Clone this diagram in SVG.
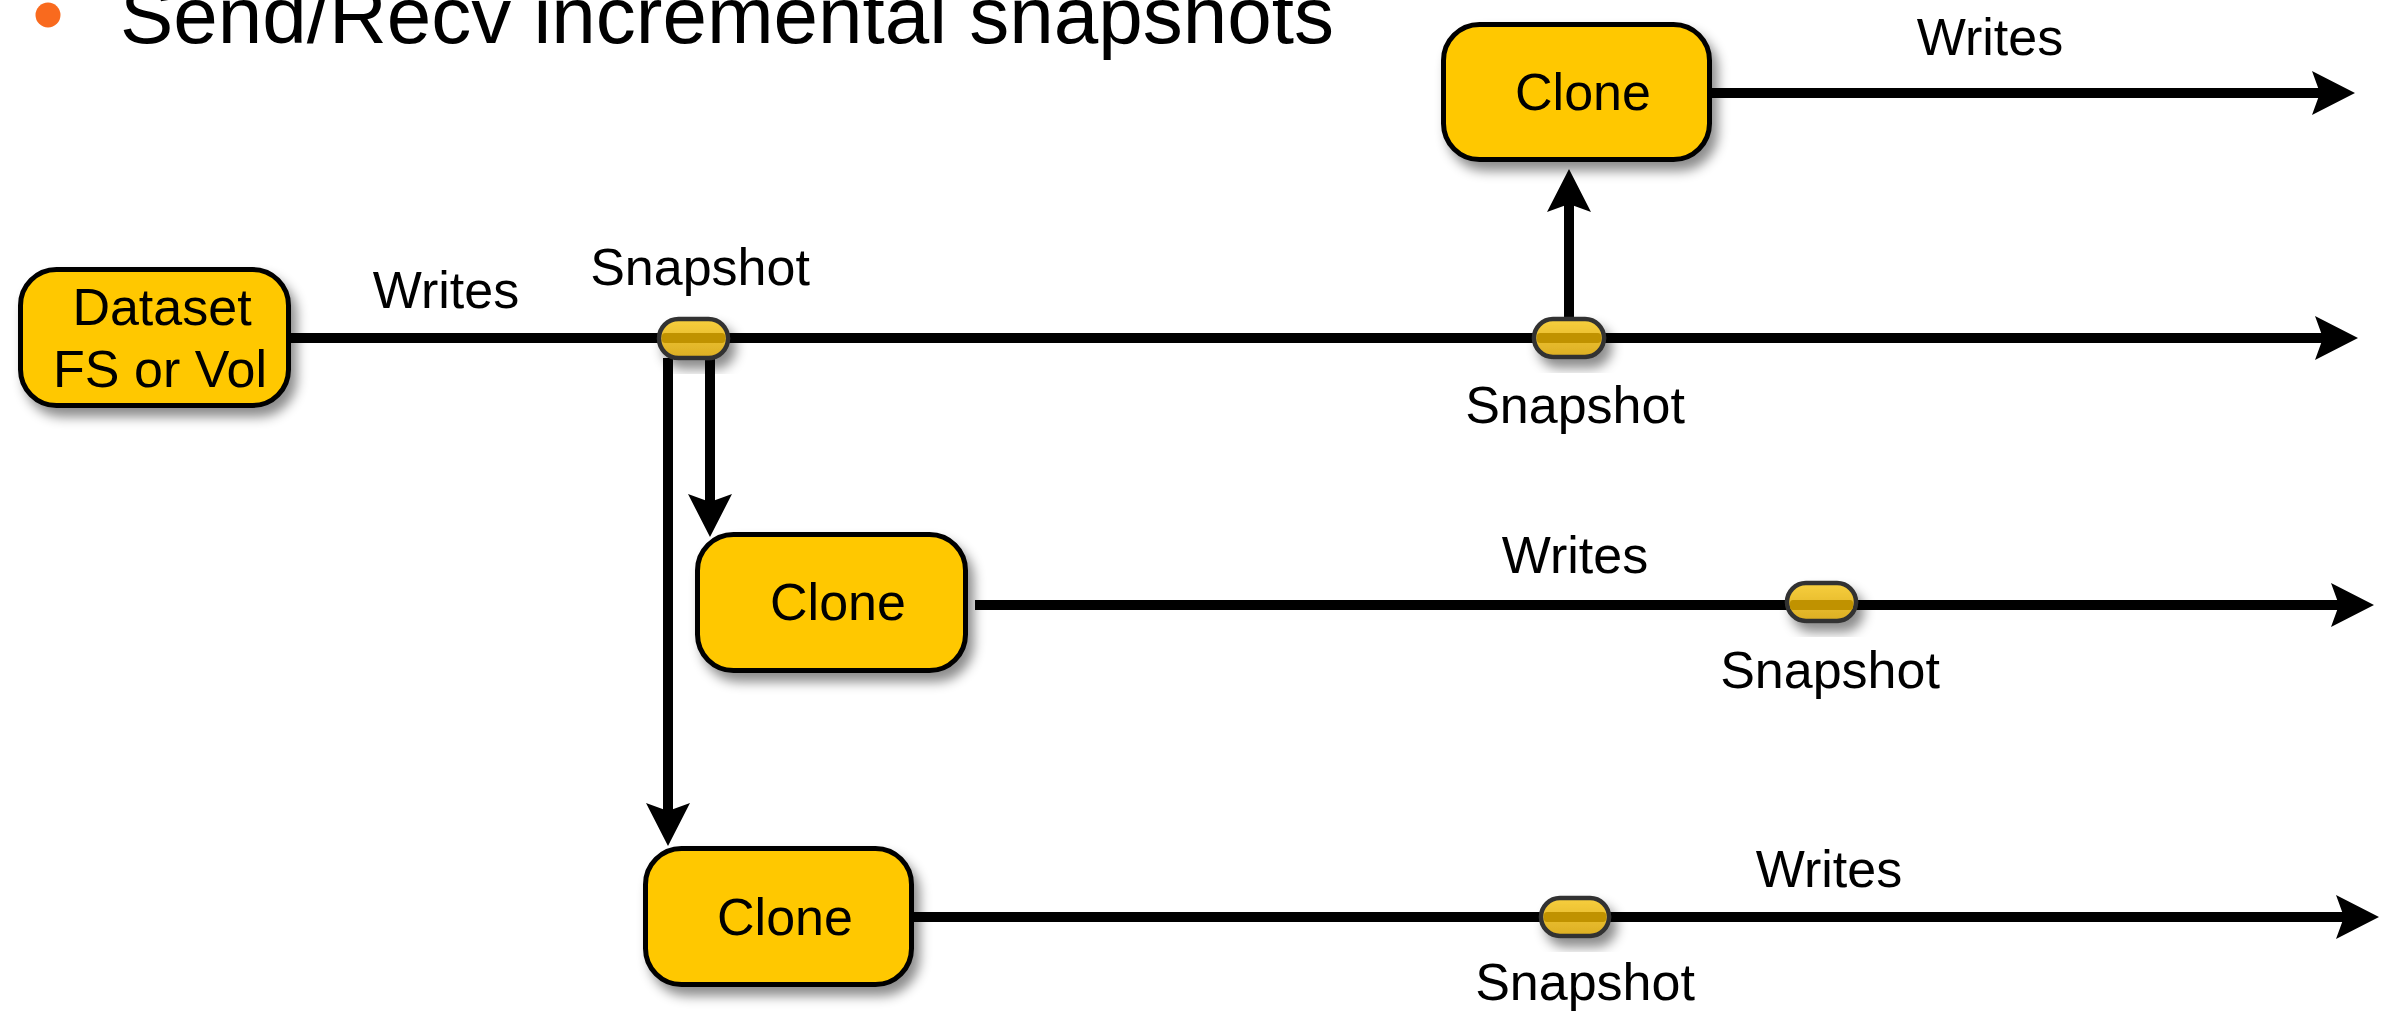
<svg xmlns="http://www.w3.org/2000/svg" width="2388" height="1012" viewBox="0 0 2388 1012">
  <defs>
    <filter id="shadow" x="-20%" y="-20%" width="150%" height="160%">
      <feDropShadow dx="6" dy="9" stdDeviation="6" flood-color="#000" flood-opacity="0.45"/>
    </filter>
    <linearGradient id="pillGrad" x1="0" y1="0" x2="0" y2="1">
      <stop offset="0" stop-color="#F7CF3E"/>
      <stop offset="1" stop-color="#DCAE22"/>
    </linearGradient>
    <marker id="arrow" viewBox="0 0 43 44" refX="10" refY="22" markerWidth="43" markerHeight="44" markerUnits="userSpaceOnUse" orient="auto">
      <path d="M43,22 L0,0 L8,22 L0,44 Z" fill="#000"/>
    </marker>
  </defs>
  <style>
    .lbl { font-family: "Liberation Sans", Arial, sans-serif; font-size: 52px; fill: #000; text-anchor: middle; }
    .box { fill: #FFC800; stroke: #000; stroke-width: 5; filter: url(#shadow); }
    .pill { fill: url(#pillGrad); stroke: #333; stroke-width: 4.5; filter: url(#shadow); }
    .band { fill: #C09200; }
    .conn { stroke: #000; stroke-width: 10; fill: none; }
  </style>
  <rect width="2388" height="1012" fill="#fff"/>

  <g id="title">
    <ellipse cx="48" cy="15" rx="12.5" ry="12.5" fill="#F96A1E"/>
    <text x="120" y="43" font-family="Liberation Sans, Arial, sans-serif" font-size="80" fill="#000">Send/Recv incremental snapshots</text>
  </g>

  <g id="connectors">
    <line class="conn" x1="289" y1="338" x2="2325" y2="338" marker-end="url(#arrow)"/>
    <line class="conn" x1="1710" y1="93" x2="2322" y2="93" marker-end="url(#arrow)"/>
    <line class="conn" x1="975" y1="605" x2="2341" y2="605" marker-end="url(#arrow)"/>
    <line class="conn" x1="912" y1="917" x2="2346" y2="917" marker-end="url(#arrow)"/>
    <line class="conn" x1="668" y1="358" x2="668" y2="813" marker-end="url(#arrow)"/>
    <line class="conn" x1="710" y1="358" x2="710" y2="504" marker-end="url(#arrow)"/>
    <line class="conn" x1="1569" y1="320" x2="1569" y2="202" marker-end="url(#arrow)"/>
  </g>

  <g id="dataset">
    <rect class="box" x="20.5" y="269.5" width="268" height="136" rx="36"/>
    <text class="lbl" x="162" y="325">Dataset</text>
    <text class="lbl" x="160" y="387">FS or Vol</text>
  </g>

  <g id="clone-top">
    <rect class="box" x="1443.5" y="24.5" width="266" height="135" rx="36"/>
    <text class="lbl" x="1583" y="110">Clone</text>
  </g>

  <g id="clone-middle">
    <rect class="box" x="697.5" y="534.5" width="268" height="136" rx="36"/>
    <text class="lbl" x="838" y="620">Clone</text>
  </g>

  <g id="clone-bottom">
    <rect class="box" x="645.5" y="848.5" width="266" height="136" rx="36"/>
    <text class="lbl" x="785" y="935">Clone</text>
  </g>

  <g id="snapshot-1">
    <rect class="pill" x="659" y="319" width="69" height="39" rx="19.5"/>
    <rect class="band" x="662" y="333" width="63" height="10" rx="3"/>
  </g>
  <g id="snapshot-top">
    <rect class="pill" x="1534" y="319" width="70" height="38" rx="19"/>
    <rect class="band" x="1537" y="333" width="64" height="10" rx="3"/>
  </g>
  <g id="snapshot-middle">
    <rect class="pill" x="1787" y="583" width="69" height="38" rx="19"/>
    <rect class="band" x="1790" y="600" width="63" height="10" rx="3"/>
  </g>
  <g id="snapshot-bottom">
    <rect class="pill" x="1541" y="898" width="68" height="38" rx="19"/>
    <rect class="band" x="1544" y="912" width="62" height="10" rx="3"/>
  </g>

  <g id="labels">
    <text class="lbl" x="446" y="308">Writes</text>
    <text class="lbl" x="700" y="285">Snapshot</text>
    <text class="lbl" x="1575" y="423">Snapshot</text>
    <text class="lbl" x="1990" y="55">Writes</text>
    <text class="lbl" x="1575" y="573">Writes</text>
    <text class="lbl" x="1830" y="688">Snapshot</text>
    <text class="lbl" x="1829" y="887">Writes</text>
    <text class="lbl" x="1585" y="1000">Snapshot</text>
  </g>
</svg>
